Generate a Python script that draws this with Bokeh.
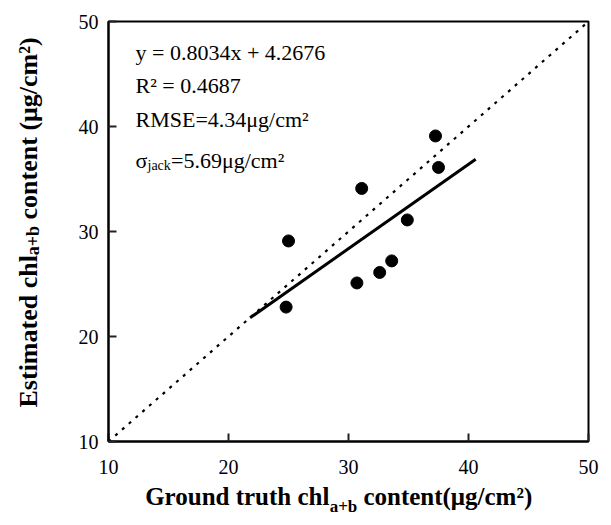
from bokeh.plotting import figure
from bokeh.models import Range1d, FixedTicker, Label, LinearAxis
from bokeh.embed import file_html
from bokeh.resources import INLINE

# ---- data ----
ground_truth = [37.25, 37.5, 31.1, 34.9, 33.6, 32.6, 30.7, 25.0, 24.8]
estimated = [39.1, 36.1, 34.1, 31.1, 27.2, 26.1, 25.1, 29.1, 22.8]
fit_slope = 0.8034
fit_intercept = 4.2676
fit_x = [21.8, 40.6]
one_to_one = [10, 50]
ticks = [10, 20, 30, 40, 50]
annotation_lines = ["y = 0.8034x + 4.2676", "R\u00b2 = 0.4687",
                    "RMSE=4.34\u03bcg/cm\u00b2"]
sigma_parts = ["\u03c3", "jack", "=5.69\u03bcg/cm\u00b2"]
x_title_parts = ["Ground truth chl", "a+b", "content(\u03bcg/cm\u00b2)"]
y_title_parts = ["Estimated chl", "a+b", "content (\u03bcg/cm\u00b2)"]

SERIF = "Liberation Serif"

W, H = 605, 520
FL, FT = 108, 21
FR, FB = W - 588, H - 441
XMIN, XMAX, YMIN, YMAX = 10, 50, 10, 50
FW = W - FL - FR
FH = H - FT - FB
SX = FW / (XMAX - XMIN)
SY = FH / (YMAX - YMIN)

p = figure(width=W, height=H, output_backend="svg", toolbar_location=None,
           x_range=Range1d(XMIN, XMAX), y_range=Range1d(YMIN, YMAX),
           min_border_left=FL, min_border_right=FR, min_border_top=FT,
           min_border_bottom=FB)
p.background_fill_color = "white"
p.border_fill_color = "white"
p.grid.visible = False
p.outline_line_color = "black"
p.outline_line_width = 2

for ax in (p.xaxis[0], p.yaxis[0]):
    ax.ticker = FixedTicker(ticks=ticks)
    ax.major_tick_in = 8
    ax.major_tick_out = 0
    ax.minor_tick_line_color = None
    ax.major_tick_line_width = 2
    ax.major_tick_line_color = "#222222"
    ax.axis_line_color = "black"
    ax.axis_line_width = 2
    ax.major_label_text_font = SERIF
    ax.major_label_text_font_size = "20px"
    ax.major_label_text_color = "black"
p.xaxis.major_label_standoff = 18
p.yaxis.major_label_standoff = 10

# 1:1 line (dotted)
p.line(one_to_one, one_to_one, line_color="black", line_width=2.2, line_dash="3 6")
# regression line
fit_y = [fit_slope * v + fit_intercept for v in fit_x]
p.line(fit_x, fit_y, line_color="black", line_width=3)
# points
p.scatter(ground_truth, estimated, size=12, color="black")


# helpers: page pixel -> data coords
def dx(px):
    return XMIN + (px - FL) / SX


def dy(py):
    return YMAX - (py - FT) / SY


def lab(x, y, text, size, bold=False):
    p.add_layout(Label(x=dx(x), y=dy(y), text=text, text_font=SERIF,
                       text_font_size=f"{size}px", text_color="black",
                       text_font_style="bold" if bold else "normal",
                       text_baseline="alphabetic", text_align="left"))


# annotation block
TX, AF = 135, 22
for txt, base in zip(annotation_lines, [52, 85, 119]):
    lab(TX, base, txt, AF)
lab(TX, 160, sigma_parts[0], AF)
lab(TX + 12, 165, sigma_parts[1], 14)
lab(TX + 12 + 23.5, 160, sigma_parts[2], AF)


# axis titles drawn as tick labels of stacked helper axes
def title_axis(side, positions, texts, size, standoff, orient="horizontal"):
    ax = LinearAxis()
    ax.ticker = FixedTicker(ticks=positions, minor_ticks=[])
    ax.major_label_overrides = {pos: t for pos, t in zip(positions, texts)}
    ax.axis_line_color = None
    ax.major_tick_line_color = None
    ax.minor_tick_line_color = None
    ax.major_tick_in = 0
    ax.major_tick_out = 0
    ax.minor_tick_in = 0
    ax.minor_tick_out = 0
    ax.major_label_standoff = standoff
    ax.major_label_text_font = SERIF
    ax.major_label_text_font_size = f"{size}px"
    ax.major_label_text_font_style = "bold"
    ax.major_label_text_color = "black"
    ax.major_label_orientation = orient
    p.add_layout(ax, side)


# x title: piece centres (page px)
XT, XS = 25, 17
x_main_c, x_sub_c, x_rest_c = 236.8, 343.0, 447.3
title_axis("below", [round(dx(x_main_c), 3), round(dx(x_rest_c), 3)],
           [x_title_parts[0], x_title_parts[2]], XT, 6)
title_axis("below", [round(dx(x_sub_c), 3)], [x_title_parts[1]], XS, -16)

# y title: piece centres (page px, along y)
YT, YS = 26, 18
y_main_c, y_sub_c, y_rest_c = 330.8, 240.0, 127.9
title_axis("left", [round(dy(y_main_c), 3), round(dy(y_rest_c), 3)],
           [y_title_parts[0], y_title_parts[2]], YT, 32, "vertical")
title_axis("left", [round(dy(y_sub_c), 3)], [y_title_parts[1]], YS, -32, "vertical")

open("out.html", "w").write(file_html(p, INLINE))
